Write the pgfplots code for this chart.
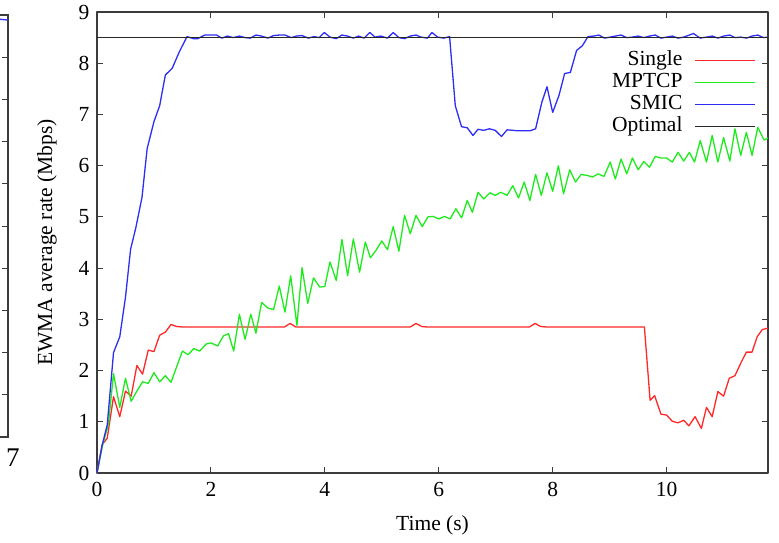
\documentclass[border=0pt]{standalone}
\usepackage{fontspec}
\setmainfont{Liberation Serif}
\usepackage{pgfplots}
\pgfplotsset{compat=1.18}
\definecolor{cSingle}{RGB}{255,40,40}
\definecolor{cMPTCP}{RGB}{30,235,30}
\definecolor{cSMIC}{RGB}{45,45,245}
\definecolor{cOpt}{RGB}{40,40,40}
\definecolor{frame}{RGB}{60,60,60}
\begin{document}
\begin{tikzpicture}[font=\fontsize{21.5}{25}\selectfont]
\useasboundingbox (-97pt,-69pt) rectangle (682pt,473pt);
% fragment of neighbouring panel
\begin{axis}[at={(-89pt,36pt)}, anchor=south east, scale only axis,
  width=300pt, height=422pt, xmin=0, xmax=7, ymin=0, ymax=10,
  xtick={7}, ytick={0,...,10}, yticklabels={}, tick align=inside,
  major tick length=6pt, axis line style={frame, line width=1.2pt},
  tick style={frame, line width=1pt},
  /pgf/number format/assume math mode=true,
  xticklabel style={yshift=-8pt, xshift=5pt, font=\fontsize{27}{30}\selectfont}]
\addplot[cSMIC, line width=1.3pt] coordinates {(6.5,9.88)(6.8,9.9)(7,9.88)};
\end{axis}
\begin{axis}[at={(0,0)}, anchor=south west, scale only axis,
  width=671pt, height=461pt, xmin=0, xmax=11.78, ymin=0, ymax=9,
  xtick={0,2,...,10}, ytick={0,...,9}, tick align=inside,
  major tick length=6pt, axis line style={frame, line width=1.2pt},
  tick style={frame, line width=1pt},
  /pgf/number format/assume math mode=true,
  xticklabel style={yshift=-6pt}, yticklabel style={xshift=-4pt},
  xlabel={Time (s)}, ylabel={EWMA average rate (Mbps)},
  xlabel style={at={(axis description cs:0.5,-0.113)}, anchor=center},
  ylabel style={at={(axis description cs:-0.0745,0.5)}, anchor=center},
  legend plot pos=right, legend cell align=right,
  legend image code/.code={\draw[#1] (0pt,0pt) -- (60pt,0pt);},
  legend style={draw=none, fill=none, at={(1,1)}, anchor=north east,
    xshift=-12pt, yshift=-37pt, inner sep=0pt,
    nodes={inner sep=1pt, text height=15pt, text depth=5pt},
    column sep=11pt},
  line join=round]
\addplot[cSingle, line width=1.3pt] coordinates {(0,0)(0.09,0.55)(0.18,0.68)(0.29,1.49)(0.4,1.1)(0.5,1.6)(0.6,1.5)(0.7,2.1)(0.8,1.93)(0.9,2.4)(1.0,2.37)(1.1,2.69)(1.2,2.75)(1.3,2.9)(1.4,2.86)(1.5,2.85)(3.29,2.85)(3.39,2.92)(3.49,2.85)(5.5,2.85)(5.6,2.92)(5.7,2.86)(5.8,2.85)(7.59,2.85)(7.69,2.92)(7.79,2.86)(7.9,2.85)(9.61,2.85)(9.71,1.42)(9.79,1.51)(9.9,1.15)(10.0,1.13)(10.1,1.01)(10.2,0.98)(10.3,1.03)(10.39,0.92)(10.5,1.1)(10.61,0.87)(10.7,1.28)(10.8,1.1)(10.9,1.59)(11.0,1.5)(11.1,1.85)(11.2,1.9)(11.3,2.14)(11.4,2.36)(11.5,2.36)(11.59,2.66)(11.68,2.8)(11.78,2.83)};
\addlegendentry{Single}
\addplot[cMPTCP, line width=1.3pt] coordinates {(0,0)(0.1,0.55)(0.2,0.95)(0.29,1.94)(0.4,1.28)(0.5,1.85)(0.6,1.4)(0.7,1.6)(0.8,1.78)(0.9,1.75)(1.0,1.96)(1.1,1.78)(1.2,1.9)(1.3,1.77)(1.4,2.08)(1.5,2.38)(1.6,2.31)(1.7,2.43)(1.8,2.38)(1.92,2.52)(2.0,2.54)(2.12,2.48)(2.22,2.68)(2.31,2.72)(2.4,2.38)(2.5,3.1)(2.6,2.61)(2.7,3.1)(2.79,2.73)(2.89,3.33)(3.0,3.22)(3.1,3.19)(3.2,3.65)(3.3,3.14)(3.4,3.85)(3.51,2.88)(3.6,4.01)(3.7,3.31)(3.8,3.81)(3.91,3.63)(4.0,3.64)(4.09,4.12)(4.2,3.76)(4.3,4.56)(4.4,3.85)(4.5,4.57)(4.61,3.92)(4.71,4.51)(4.8,4.2)(4.9,4.35)(5.0,4.53)(5.1,4.36)(5.2,4.81)(5.3,4.33)(5.4,5.03)(5.5,4.67)(5.6,5.03)(5.71,4.81)(5.81,5.0)(5.9,5.01)(6.0,4.96)(6.1,5.01)(6.2,4.96)(6.3,5.16)(6.4,4.98)(6.5,5.32)(6.59,5.09)(6.69,5.48)(6.79,5.35)(6.9,5.47)(6.99,5.42)(7.09,5.48)(7.2,5.42)(7.3,5.61)(7.4,5.37)(7.5,5.68)(7.6,5.32)(7.7,5.83)(7.8,5.42)(7.9,5.86)(8.0,5.5)(8.1,6.0)(8.19,5.45)(8.3,5.92)(8.4,5.68)(8.5,5.83)(8.6,5.81)(8.7,5.78)(8.8,5.84)(8.9,5.79)(9.01,6.07)(9.1,5.74)(9.2,6.13)(9.3,5.84)(9.4,6.15)(9.5,5.92)(9.6,6.08)(9.7,5.97)(9.8,6.18)(9.9,6.15)(10.0,6.15)(10.1,6.07)(10.2,6.26)(10.3,6.09)(10.4,6.26)(10.49,6.07)(10.59,6.49)(10.7,6.07)(10.8,6.59)(10.9,6.07)(11.0,6.55)(11.11,6.09)(11.2,6.72)(11.3,6.2)(11.4,6.65)(11.5,6.2)(11.6,6.75)(11.71,6.5)(11.78,6.54)};
\addlegendentry{MPTCP}
\addplot[cSMIC, line width=1.3pt] coordinates {(0,0)(0.09,0.54)(0.18,0.94)(0.29,2.35)(0.4,2.66)(0.5,3.43)(0.59,4.37)(0.68,4.78)(0.79,5.38)(0.88,6.33)(1.0,6.86)(1.1,7.17)(1.2,7.77)(1.32,7.9)(1.44,8.21)(1.58,8.52)(1.69,8.48)(1.77,8.48)(1.89,8.55)(2.0,8.55)(2.1,8.55)(2.19,8.49)(2.29,8.53)(2.39,8.5)(2.5,8.53)(2.6,8.5)(2.69,8.49)(2.79,8.55)(2.89,8.53)(3.0,8.49)(3.1,8.54)(3.2,8.55)(3.3,8.55)(3.41,8.5)(3.5,8.53)(3.6,8.54)(3.71,8.49)(3.81,8.52)(3.9,8.5)(3.99,8.6)(4.09,8.51)(4.2,8.48)(4.3,8.55)(4.4,8.53)(4.5,8.49)(4.59,8.53)(4.69,8.49)(4.79,8.6)(4.88,8.51)(4.98,8.53)(5.1,8.49)(5.2,8.6)(5.3,8.5)(5.4,8.48)(5.5,8.53)(5.6,8.55)(5.69,8.51)(5.8,8.49)(5.88,8.6)(5.98,8.51)(6.09,8.49)(6.19,8.52)(6.29,7.17)(6.4,6.76)(6.5,6.74)(6.6,6.59)(6.69,6.71)(6.79,6.69)(6.89,6.72)(6.99,6.69)(7.1,6.57)(7.2,6.7)(7.3,6.69)(7.4,6.68)(7.5,6.68)(7.6,6.68)(7.7,6.72)(7.81,7.24)(7.9,7.54)(8.0,7.04)(8.11,7.37)(8.21,7.8)(8.31,7.82)(8.42,8.25)(8.52,8.34)(8.62,8.52)(8.72,8.53)(8.81,8.55)(8.91,8.49)(9.01,8.51)(9.1,8.53)(9.2,8.55)(9.3,8.5)(9.4,8.51)(9.5,8.53)(9.6,8.5)(9.7,8.53)(9.8,8.55)(9.9,8.49)(10.0,8.51)(10.1,8.53)(10.2,8.49)(10.3,8.51)(10.4,8.55)(10.47,8.58)(10.59,8.49)(10.7,8.51)(10.8,8.53)(10.9,8.49)(11.0,8.53)(11.11,8.55)(11.2,8.5)(11.3,8.51)(11.4,8.49)(11.5,8.53)(11.6,8.55)(11.7,8.5)(11.78,8.51)};
\addlegendentry{SMIC}
\addplot[cOpt, line width=0.9pt] coordinates {(0,8.5)(11.78,8.5)};
\addlegendentry{Optimal}
\end{axis}
\end{tikzpicture}
\end{document}
